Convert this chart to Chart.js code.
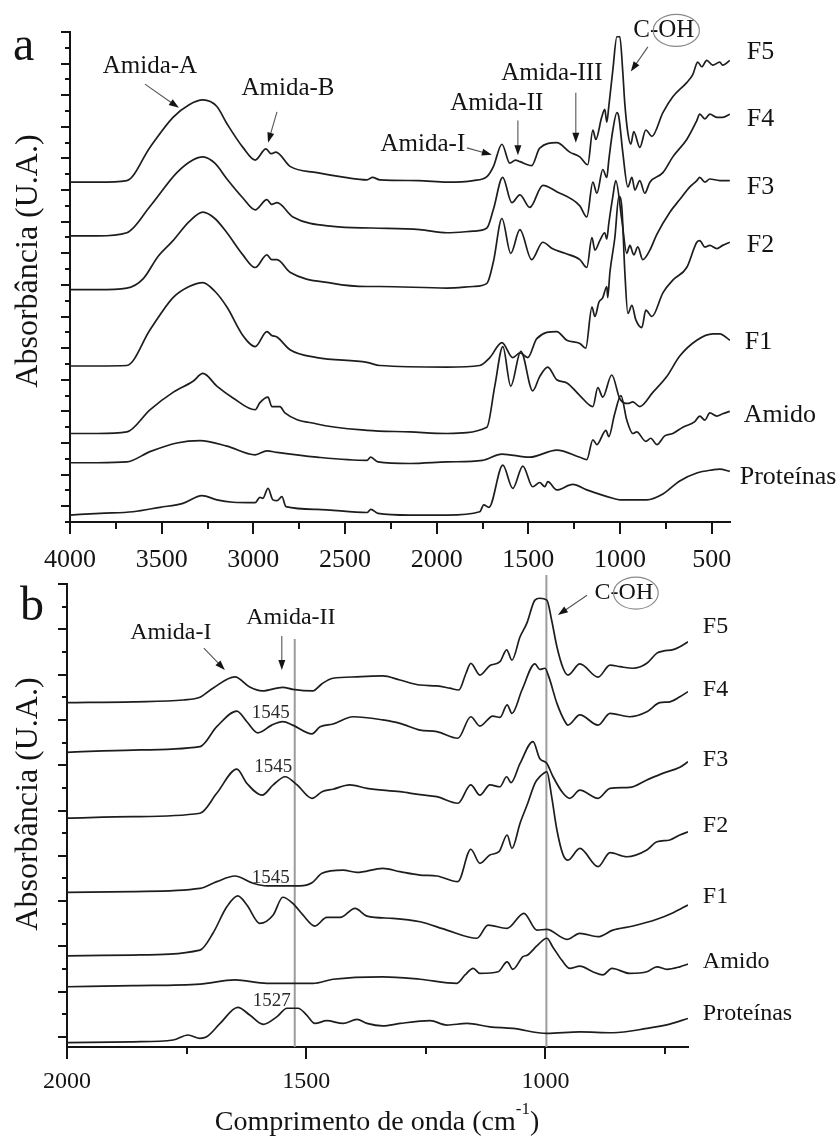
<!DOCTYPE html>
<html>
<head>
<meta charset="utf-8">
<script src="https://cdn.jsdelivr.net/npm/chart.js@4.4.1/dist/chart.umd.min.js"></script>
<style>
  html, body { margin: 0; padding: 0; background: #fff; }
  #wrap { position: relative; width: 839px; height: 1137px; }
  canvas { position: absolute; left: 0; }
  #specA { top: 0; }
  #specB { top: 570px; }
</style>
</head>
<body>
<div id="wrap">
  <canvas id="specA" width="839" height="600"></canvas>
  <canvas id="specB" width="839" height="567"></canvas>
</div>
<script>
// FTIR spectra, stacked with offsets. Each point is [wavenumber cm-1, absorbance (a.u. + offset)]
const seriesNames = ['F5', 'F4', 'F3', 'F2', 'F1', 'Amido', 'Proteínas'];

// ---- panel a : 4000 - 400 cm-1
const aTicks = [4000, 3500, 3000, 2500, 2000, 1500, 1000, 500];
const aTickLabels = ['4000', '3500', '3000', '2500', '2000', '1500', '1000', '500'];

const a_F5 = [[4000,21.5],[3850,21.5],[3690,21.6],[3564,23.7],[3438,25.6],[3350,26.4],[3275,26.7],[3200,26.3],[3144,25.2],[3057,23.7],[2990,22.9],[2931,23.6],[2904,23.3],[2877,23.4],[2800,22.5],[2653,22.1],[2500,21.8],[2380,21.65],[2350,21.8],[2310,21.65],[2100,21.6],[1944,21.5],[1800,21.6],[1726,21.85],[1690,22.5],[1644,23.9],[1601,22.7],[1570,22.9],[1546,22.8],[1482,22.55],[1438,23.65],[1345,24.0],[1274,23.4],[1219,23.1],[1176,22.6],[1148,24.8],[1132,24.2],[1100,25.6],[1083,26.1],[1072,25.3],[1061,26.3],[1039,28.6],[1017,30.7],[1001,30.7],[985,28.5],[974,26.5],[957,24.6],[941,23.9],[925,24.7],[892,23.7],[859,24.8],[826,24.4],[766,25.9],[712,26.9],[636,27.8],[603,28.3],[576,29.1],[554,28.8],[527,29.2],[494,28.9],[456,29.1],[440,28.9],[401,29.2]];
const a_F4 = [[4000,18.1],[3850,18.1],[3690,18.3],[3564,19.96],[3417,22.1],[3330,22.9],[3275,23.1],[3210,22.7],[3144,21.7],[3057,20.5],[2990,19.75],[2926,20.4],[2900,20.1],[2871,20.2],[2784,19.3],[2566,18.7],[2350,18.6],[2092,18.5],[1944,18.3],[1800,18.4],[1726,18.6],[1690,19.8],[1640,21.8],[1590,20.2],[1546,20.7],[1492,19.9],[1421,21.3],[1345,20.9],[1219,20.0],[1181,19.3],[1148,21.5],[1126,20.8],[1094,22.3],[1072,21.8],[1061,22.9],[1039,24.8],[1017,25.9],[1006,25.6],[985,23.4],[957,21.2],[935,21.8],[919,21.0],[892,21.6],[865,20.8],[837,21.5],[766,22.1],[712,23.1],[636,24.2],[581,25.4],[565,25.8],[537,25.5],[510,25.8],[472,25.6],[440,25.6],[401,25.8]];
const a_F3 = [[4000,14.7],[3850,14.7],[3690,14.8],[3600,15.4],[3520,16.8],[3438,17.8],[3350,19.0],[3275,19.6],[3210,19.2],[3144,18.3],[3057,16.9],[2990,16.1],[2926,16.9],[2900,16.6],[2871,16.6],[2800,15.8],[2566,15.1],[2380,14.9],[2310,14.9],[1944,14.8],[1800,14.9],[1726,15.1],[1690,16.5],[1644,19.2],[1596,17.0],[1546,18.5],[1482,16.6],[1421,17.7],[1370,17.3],[1300,17.0],[1219,16.6],[1181,16.1],[1153,18.0],[1137,17.2],[1110,17.8],[1083,18.3],[1072,17.9],[1061,18.9],[1039,20.6],[1023,21.6],[990,19.1],[963,17.0],[946,17.5],[925,16.9],[903,17.4],[876,16.6],[837,17.2],[799,18.2],[728,19.6],[674,20.4],[619,21.2],[581,21.6],[565,21.8],[537,21.5],[510,21.7],[456,21.6],[401,21.6]];
const a_F2 = [[4000,9.87],[3850,9.87],[3690,9.9],[3564,12.15],[3438,14.2],[3350,14.9],[3275,15.15],[3210,14.6],[3144,13.6],[3057,11.8],[2990,11.1],[2926,12.05],[2900,11.8],[2871,11.7],[2800,10.9],[2653,10.4],[2380,10.1],[2310,9.9],[1944,9.8],[1765,9.9],[1710,10.4],[1644,11.35],[1585,10.4],[1546,10.7],[1503,10.4],[1454,11.6],[1345,12.05],[1290,11.5],[1219,11.3],[1187,11.0],[1153,13.6],[1137,13.0],[1115,13.9],[1094,14.2],[1072,14.9],[1067,14.2],[1055,15.8],[1028,18.0],[1006,20.6],[990,19.9],[974,15.9],[957,13.2],[935,13.7],[914,12.8],[881,12.3],[859,13.4],[826,13.0],[766,14.5],[712,15.3],[636,16.1],[581,17.7],[565,17.8],[537,17.4],[510,17.5],[472,17.3],[440,17.5],[401,17.7]];
const a_F1 = [[4000,5.6],[3850,5.6],[3690,5.7],[3564,7.1],[3438,8.2],[3329,8.9],[3275,9.4],[3199,8.6],[3111,7.85],[2990,7.1],[2964,7.55],[2920,7.9],[2899,7.3],[2855,7.3],[2828,6.9],[2653,6.2],[2380,5.8],[2146,5.7],[1944,5.6],[1726,6.0],[1683,8.6],[1639,11.1],[1596,8.6],[1541,10.8],[1476,8.3],[1438,9.2],[1394,9.8],[1345,9.0],[1290,8.8],[1219,8.0],[1148,7.3],[1121,8.5],[1094,7.9],[1045,9.3],[1001,7.8],[957,7.5],[930,7.6],[892,7.3],[821,8.2],[745,9.2],[674,10.5],[581,11.5],[494,11.9],[456,11.9],[401,11.5]];
const a_Amido = [[4000,3.75],[3850,3.75],[3690,3.8],[3564,4.45],[3417,5.0],[3291,5.15],[3144,4.8],[2990,4.25],[2926,4.5],[2871,4.4],[2653,4.1],[2380,3.9],[2360,4.1],[2320,3.8],[2146,3.7],[1944,3.8],[1750,3.9],[1644,4.3],[1492,4.1],[1345,4.55],[1219,4.1],[1181,3.95],[1148,5.2],[1126,4.9],[1077,5.8],[1061,5.4],[1030,6.8],[995,8.0],[963,6.45],[930,5.6],[909,5.7],[859,5.1],[832,5.3],[799,4.9],[756,5.45],[712,5.6],[657,6.0],[592,6.35],[565,6.7],[537,6.45],[510,6.9],[472,6.7],[440,6.85],[401,7.0]];
const a_Proteinas = [[4000,0.44],[3836,0.55],[3656,0.65],[3509,0.93],[3384,1.18],[3280,1.67],[3199,1.4],[3111,1.25],[2990,1.22],[2964,1.56],[2948,1.5],[2920,2.13],[2893,1.4],[2871,1.35],[2844,1.6],[2822,0.97],[2653,0.8],[2380,0.6],[2359,0.8],[2320,0.55],[2146,0.44],[1944,0.44],[1765,0.65],[1743,1.08],[1715,0.93],[1639,3.6],[1585,2.13],[1530,3.54],[1476,2.23],[1438,2.5],[1410,2.23],[1394,2.55],[1345,2.03],[1258,2.38],[1181,2.03],[1039,1.5],[1001,1.4],[854,1.4],[766,1.77],[674,2.6],[581,3.1],[494,3.3],[456,3.35],[401,3.2]];

// ---- panel b : 2000 - 700 cm-1
const bTicks = [2000, 1500, 1000];
const bTickLabels = ['2000', '1500', '1000'];

const b_F5 = [[2000,14.76],[1862,14.8],[1757,14.88],[1722,15.0],[1695,15.4],[1649,15.9],[1618,15.45],[1592,15.28],[1549,15.44],[1528,15.35],[1486,15.28],[1467,15.6],[1444,15.84],[1394,15.9],[1340,15.94],[1304,15.76],[1262,15.54],[1227,15.5],[1200,15.4],[1181,15.32],[1166,16.06],[1156,16.5],[1137,15.98],[1116,16.4],[1095,16.57],[1081,17.09],[1070,16.64],[1053,17.67],[1039,18.26],[1022,19.29],[1012,19.37],[997,19.29],[987,18.4],[976,17.23],[963,16.28],[953,15.98],[928,16.47],[890,15.89],[865,16.42],[844,16.35],[817,16.28],[788,16.5],[767,16.95],[754,17.04],[733,17.1],[719,17.23],[702,17.45]];
const b_F4 = [[2000,12.57],[1862,12.67],[1722,12.82],[1687,13.7],[1645,14.39],[1624,13.92],[1601,13.43],[1572,13.77],[1549,13.92],[1528,13.77],[1488,13.38],[1471,13.7],[1444,13.82],[1402,14.14],[1340,14.0],[1304,13.85],[1262,13.55],[1227,13.48],[1183,13.19],[1156,14.14],[1137,13.73],[1110,14.17],[1095,14.11],[1080,14.66],[1070,14.29],[1049,15.32],[1022,16.47],[1012,16.23],[1001,16.28],[993,15.91],[976,14.73],[959,13.92],[953,13.77],[928,14.22],[890,13.77],[865,14.29],[824,14.14],[788,14.36],[761,14.76],[740,14.8],[719,15.02],[702,15.25]];
const b_F3 = [[2000,9.66],[1862,9.73],[1722,9.88],[1687,10.76],[1645,11.83],[1624,11.2],[1592,10.68],[1569,11.13],[1544,11.49],[1519,11.13],[1488,10.54],[1467,10.83],[1444,10.94],[1409,11.13],[1373,10.98],[1304,10.83],[1262,10.7],[1227,10.61],[1183,10.32],[1156,11.13],[1137,10.68],[1116,11.13],[1095,11.05],[1081,11.49],[1072,11.23],[1053,12.08],[1026,13.04],[1012,12.3],[997,12.08],[984,11.49],[963,10.76],[949,10.54],[928,10.9],[890,10.54],[865,10.98],[824,11.02],[788,11.35],[755,11.64],[719,11.91],[702,12.15]];
const b_F2 = [[2000,6.39],[1862,6.42],[1722,6.56],[1687,6.86],[1649,7.11],[1611,6.79],[1582,6.67],[1513,6.67],[1488,6.81],[1467,7.23],[1423,7.37],[1394,7.27],[1340,7.45],[1304,7.3],[1262,7.15],[1227,7.11],[1183,6.86],[1156,8.29],[1137,7.67],[1116,8.04],[1097,8.18],[1080,8.92],[1070,8.33],[1053,9.44],[1037,10.32],[1022,11.2],[1012,11.49],[997,11.71],[987,10.61],[976,9.14],[963,8.04],[953,7.81],[928,8.33],[890,7.52],[865,8.14],[830,7.96],[788,8.26],[767,8.62],[740,8.7],[719,8.92],[702,9.06]];
const b_F1 = [[2000,3.58],[1862,3.62],[1722,3.84],[1695,4.58],[1666,5.75],[1643,6.23],[1624,5.83],[1597,5.02],[1569,5.39],[1549,6.17],[1528,5.9],[1507,5.39],[1482,4.9],[1457,5.28],[1429,5.28],[1398,5.68],[1373,5.34],[1319,5.24],[1262,5.09],[1206,4.72],[1143,4.36],[1120,4.94],[1080,4.8],[1045,5.46],[1018,4.72],[997,4.75],[955,4.31],[928,4.58],[890,4.43],[859,4.72],[817,4.9],[767,5.2],[733,5.49],[702,5.83]];
const b_Amido = [[2000,2.22],[1862,2.27],[1722,2.34],[1649,2.52],[1582,2.37],[1486,2.37],[1444,2.55],[1340,2.66],[1262,2.55],[1185,2.37],[1168,2.74],[1151,3.03],[1137,2.81],[1099,2.88],[1080,3.32],[1068,2.99],[1047,3.55],[1037,3.62],[1018,4.02],[997,4.36],[985,3.99],[966,3.4],[949,3.03],[928,3.13],[901,2.88],[880,2.74],[861,3.03],[824,2.81],[788,2.88],[767,3.1],[746,2.99],[719,3.1],[702,3.22]];
const b_Proteinas = [[2000,-0.25],[1862,-0.21],[1778,-0.13],[1747,0.09],[1722,-0.06],[1708,0.01],[1680,0.6],[1643,1.31],[1618,0.97],[1590,0.56],[1561,0.9],[1540,1.27],[1517,1.27],[1499,0.97],[1482,0.6],[1457,0.72],[1423,0.6],[1394,0.78],[1373,0.6],[1340,0.49],[1304,0.6],[1241,0.72],[1206,0.53],[1164,0.6],[1116,0.45],[1068,0.38],[997,0.16],[928,0.23],[859,0.19],[788,0.38],[740,0.57],[702,0.82]];

const SERIF = "'Liberation Serif', 'Times New Roman', serif";
const INK = '#141414';

// annotation layout (data coordinates)
const layoutA = {
  names: [[309,29.75],[309,25.5],[309,21.2],[309,17.53],[320,11.39],[325,6.77],[347,2.85]],
  nameSize: 26,
  notes: [
    { text: 'Amida-A',   at: [3564, 28.8],  arrow: [[3591, 27.7], [3406, 26.2]] },
    { text: 'Amida-B',   at: [2811, 27.4],  arrow: [[2871, 25.95], [2920, 24.0]] },
    { text: 'Amida-I',   at: [2075, 23.86], arrow: [[1835, 23.67], [1699, 23.23]] },
    { text: 'Amida-II',  at: [1672, 26.5],  arrow: [[1557, 25.4], [1557, 23.2]] },
    { text: 'Amida-III', at: [1372, 28.4],  arrow: [[1241, 27.15], [1241, 24.0]] }
  ],
  noteSize: 25,
  coh: { at: [761, 31.1], arrow: [[848, 30.06], [941, 28.5]] },
  guides: [],
  yMajorOdd: true
};
const layoutB = {
  names: [[671,18.1],[671,15.32],[671,12.23],[671,9.32],[671,6.18],[671,3.31],[671,1.02]],
  nameSize: 24,
  notes: [
    { text: 'Amida-I',  at: [1783, 17.84], arrow: [[1714, 17.17], [1670, 16.2]] },
    { text: 'Amida-II', at: [1532, 18.5],  arrow: [[1551, 17.7], [1551, 16.2]] },
    { text: '1545', at: [1574, 14.3], small: true },
    { text: '1545', at: [1569, 11.92], small: true },
    { text: '1545', at: [1574, 7.02], small: true },
    { text: '1527', at: [1572, 1.59], small: true }
  ],
  noteSize: 24,
  coh: { at: [836, 19.6], arrow: [[913, 19.5], [974, 18.63]] },
  guides: [[1524, 17.57], [998, 20.4]],
  yMajorOdd: false
};

function arrow(ctx, x0, y0, x1, y1) {
  const ang = Math.atan2(y1 - y0, x1 - x0);
  ctx.strokeStyle = '#555';
  ctx.lineWidth = 1.1;
  ctx.beginPath();
  ctx.moveTo(x0, y0);
  ctx.lineTo(x1 - 6 * Math.cos(ang), y1 - 6 * Math.sin(ang));
  ctx.stroke();
  ctx.fillStyle = INK;
  ctx.beginPath();
  ctx.moveTo(x1, y1);
  ctx.lineTo(x1 - 10 * Math.cos(ang) + 3.5 * Math.sin(ang), y1 - 10 * Math.sin(ang) - 3.5 * Math.cos(ang));
  ctx.lineTo(x1 - 10 * Math.cos(ang) - 3.5 * Math.sin(ang), y1 - 10 * Math.sin(ang) + 3.5 * Math.cos(ang));
  ctx.closePath();
  ctx.fill();
}

function decorations(lay) {
  return {
    id: 'decorations',
    beforeDatasetsDraw(chart) {
      const { ctx, chartArea, scales: { x, y } } = chart;
      ctx.save();
      ctx.strokeStyle = '#9c9c9c';
      ctx.lineWidth = 2;
      lay.guides.forEach(g => {
        const px = x.getPixelForValue(g[0]);
        ctx.beginPath();
        ctx.moveTo(px, y.getPixelForValue(g[1]));
        ctx.lineTo(px, chartArea.bottom);
        ctx.stroke();
      });
      ctx.restore();
    },
    afterDraw(chart) {
      const { ctx, chartArea, scales: { x, y } } = chart;
      ctx.save();
      // major / minor tick marks
      ctx.strokeStyle = INK;
      ctx.lineWidth = 2;
      const lo = Math.min(x.min, x.max), hi = Math.max(x.min, x.max);
      for (let v = Math.ceil(lo / 250) * 250; v <= hi; v += 250) {
        const px = Math.round(x.getPixelForValue(v));
        const len = v % 500 === 0 ? 12 : 7;
        ctx.beginPath();
        ctx.moveTo(px, chartArea.bottom);
        ctx.lineTo(px, chartArea.bottom + len);
        ctx.stroke();
      }
      for (let v = Math.ceil(y.min); v <= Math.floor(y.max); v++) {
        const py = Math.round(y.getPixelForValue(v));
        const major = lay.yMajorOdd ? (v % 2 === 1) : (v % 2 === 0);
        ctx.beginPath();
        ctx.moveTo(chartArea.left, py);
        ctx.lineTo(chartArea.left - (major ? 9 : 5), py);
        ctx.stroke();
      }

      // series names at the right end
      ctx.fillStyle = INK;
      ctx.textBaseline = 'middle';
      ctx.textAlign = 'left';
      ctx.font = lay.nameSize + 'px ' + SERIF;
      seriesNames.forEach((n, i) => {
        const p = lay.names[i];
        ctx.fillText(n, x.getPixelForValue(p[0]), y.getPixelForValue(p[1]));
      });

      // band notes with arrows
      ctx.textAlign = 'center';
      lay.notes.forEach(n => {
        ctx.font = (n.small ? 19 : lay.noteSize) + 'px ' + SERIF;
        ctx.fillStyle = n.small ? '#2a2a2a' : INK;
        ctx.fillText(n.text, x.getPixelForValue(n.at[0]), y.getPixelForValue(n.at[1]));
        if (n.arrow) {
          arrow(ctx, x.getPixelForValue(n.arrow[0][0]), y.getPixelForValue(n.arrow[0][1]),
                     x.getPixelForValue(n.arrow[1][0]), y.getPixelForValue(n.arrow[1][1]));
        }
      });

      // C-OH with the OH group circled
      const c = lay.coh;
      ctx.font = lay.noteSize + 'px ' + SERIF;
      const wC = ctx.measureText('C-').width, wOH = ctx.measureText('OH').width;
      const cx = x.getPixelForValue(c.at[0]), cy = y.getPixelForValue(c.at[1]);
      const left = cx - (wC + wOH) / 2;
      ctx.textAlign = 'left';
      ctx.fillStyle = INK;
      ctx.fillText('C-OH', left, cy);
      ctx.strokeStyle = '#8a8a8a';
      ctx.lineWidth = 1.2;
      ctx.beginPath();
      ctx.ellipse(left + wC + wOH / 2, cy, wOH / 2 + 5, 16, 0, 0, Math.PI * 2);
      ctx.stroke();
      arrow(ctx, x.getPixelForValue(c.arrow[0][0]), y.getPixelForValue(c.arrow[0][1]),
                 x.getPixelForValue(c.arrow[1][0]), y.getPixelForValue(c.arrow[1][1]));
      ctx.restore();
    }
  };
}

function frameTexts(panel, title) {
  return {
    id: 'frameTexts',
    afterDraw(chart) {
      const { ctx } = chart;
      ctx.save();
      ctx.fillStyle = INK;
      ctx.font = '48px ' + SERIF;
      ctx.textAlign = 'left';
      ctx.textBaseline = 'alphabetic';
      ctx.fillText(panel.letter, panel.letterAt[0], panel.letterAt[1]);
      // rotated y title, baseline on the right side of the glyphs
      ctx.font = '32px ' + SERIF;
      ctx.textAlign = 'center';
      ctx.textBaseline = 'alphabetic';
      ctx.translate(panel.yTitleAt[0], panel.yTitleAt[1]);
      ctx.rotate(-Math.PI / 2);
      ctx.fillText('Absorbância (U.A.)', 0, 0);
      ctx.restore();
      if (title) {
        ctx.save();
        ctx.fillStyle = INK;
        ctx.textBaseline = 'middle';
        ctx.textAlign = 'left';
        ctx.font = '28px ' + SERIF;
        const main = 'Comprimento de onda (cm', sup = '-1', end = ')';
        const wMain = ctx.measureText(main).width;
        ctx.font = '17px ' + SERIF;
        const wSup = ctx.measureText(sup).width;
        ctx.font = '28px ' + SERIF;
        const wEnd = ctx.measureText(end).width;
        let x0 = title[0] - (wMain + wSup + wEnd) / 2;
        ctx.fillText(main, x0, title[1]);
        x0 += wMain;
        ctx.font = '17px ' + SERIF;
        ctx.fillText(sup, x0, title[1] - 13);
        x0 += wSup;
        ctx.font = '28px ' + SERIF;
        ctx.fillText(end, x0, title[1]);
        ctx.restore();
      }
    }
  };
}

function toPoints(arr) {
  return arr.map(p => ({ x: p[0], y: p[1] }));
}

function makeChart(id, curves, xr, yr, ticks, tickLabels, tickSize, tickPad, padding, axisBand, lay, panel, title) {
  return new Chart(document.getElementById(id), {
    type: 'line',
    data: {
      datasets: curves.map((c, i) => ({
        label: seriesNames[i],
        data: toPoints(c),
        borderColor: '#1d1d1d',
        borderWidth: 1.7,
        pointRadius: 0,
        fill: false,
        cubicInterpolationMode: 'monotone'
      }))
    },
    options: {
      responsive: false,
      animation: false,
      events: [],
      layout: { padding: padding },
      plugins: { legend: { display: false }, tooltip: { enabled: false } },
      scales: {
        x: {
          type: 'linear',
          reverse: true,
          min: xr[0],
          max: xr[1],
          afterBuildTicks: s => { s.ticks = ticks.map(v => ({ value: v })); },
          // fixed band below the plot, so the plot area sits where we want it
          afterFit: s => { s.height = axisBand; },
          grid: { display: true, drawOnChartArea: false, drawTicks: false },
          border: { display: true, color: INK, width: 2 },
          ticks: {
            autoSkip: false,
            maxRotation: 0,
            padding: tickPad,
            color: INK,
            font: { family: SERIF, size: tickSize },
            callback: (v, i) => tickLabels[i]
          }
        },
        y: {
          min: yr[0],
          max: yr[1],
          afterFit: s => { s.width = 0; },
          grid: { display: true, drawOnChartArea: false, drawTicks: false },
          border: { display: true, color: INK, width: 2 },
          ticks: { display: false }
        }
      }
    },
    plugins: [decorations(lay), frameTexts(panel, title)]
  });
}

makeChart('specA',
  [a_F5, a_F4, a_F3, a_F2, a_F1, a_Amido, a_Proteinas],
  [400, 4000], [0, 31], aTicks, aTickLabels, 26, 23,
  { left: 70, right: 109, top: 32, bottom: 0 }, 78,
  layoutA, { letter: 'a', letterAt: [13, 60], yTitleAt: [37, 261] }, null);

makeChart('specB',
  [b_F5, b_F4, b_F3, b_F2, b_F1, b_Amido, b_Proteinas],
  [702, 2000], [-0.44, 20], bTicks, bTickLabels, 24, 20,
  { left: 67, right: 151, top: 14, bottom: 0 }, 90,
  layoutB, { letter: 'b', letterAt: [20, 50], yTitleAt: [37, 234] }, [377, 553]);
</script>
</body>
</html>
